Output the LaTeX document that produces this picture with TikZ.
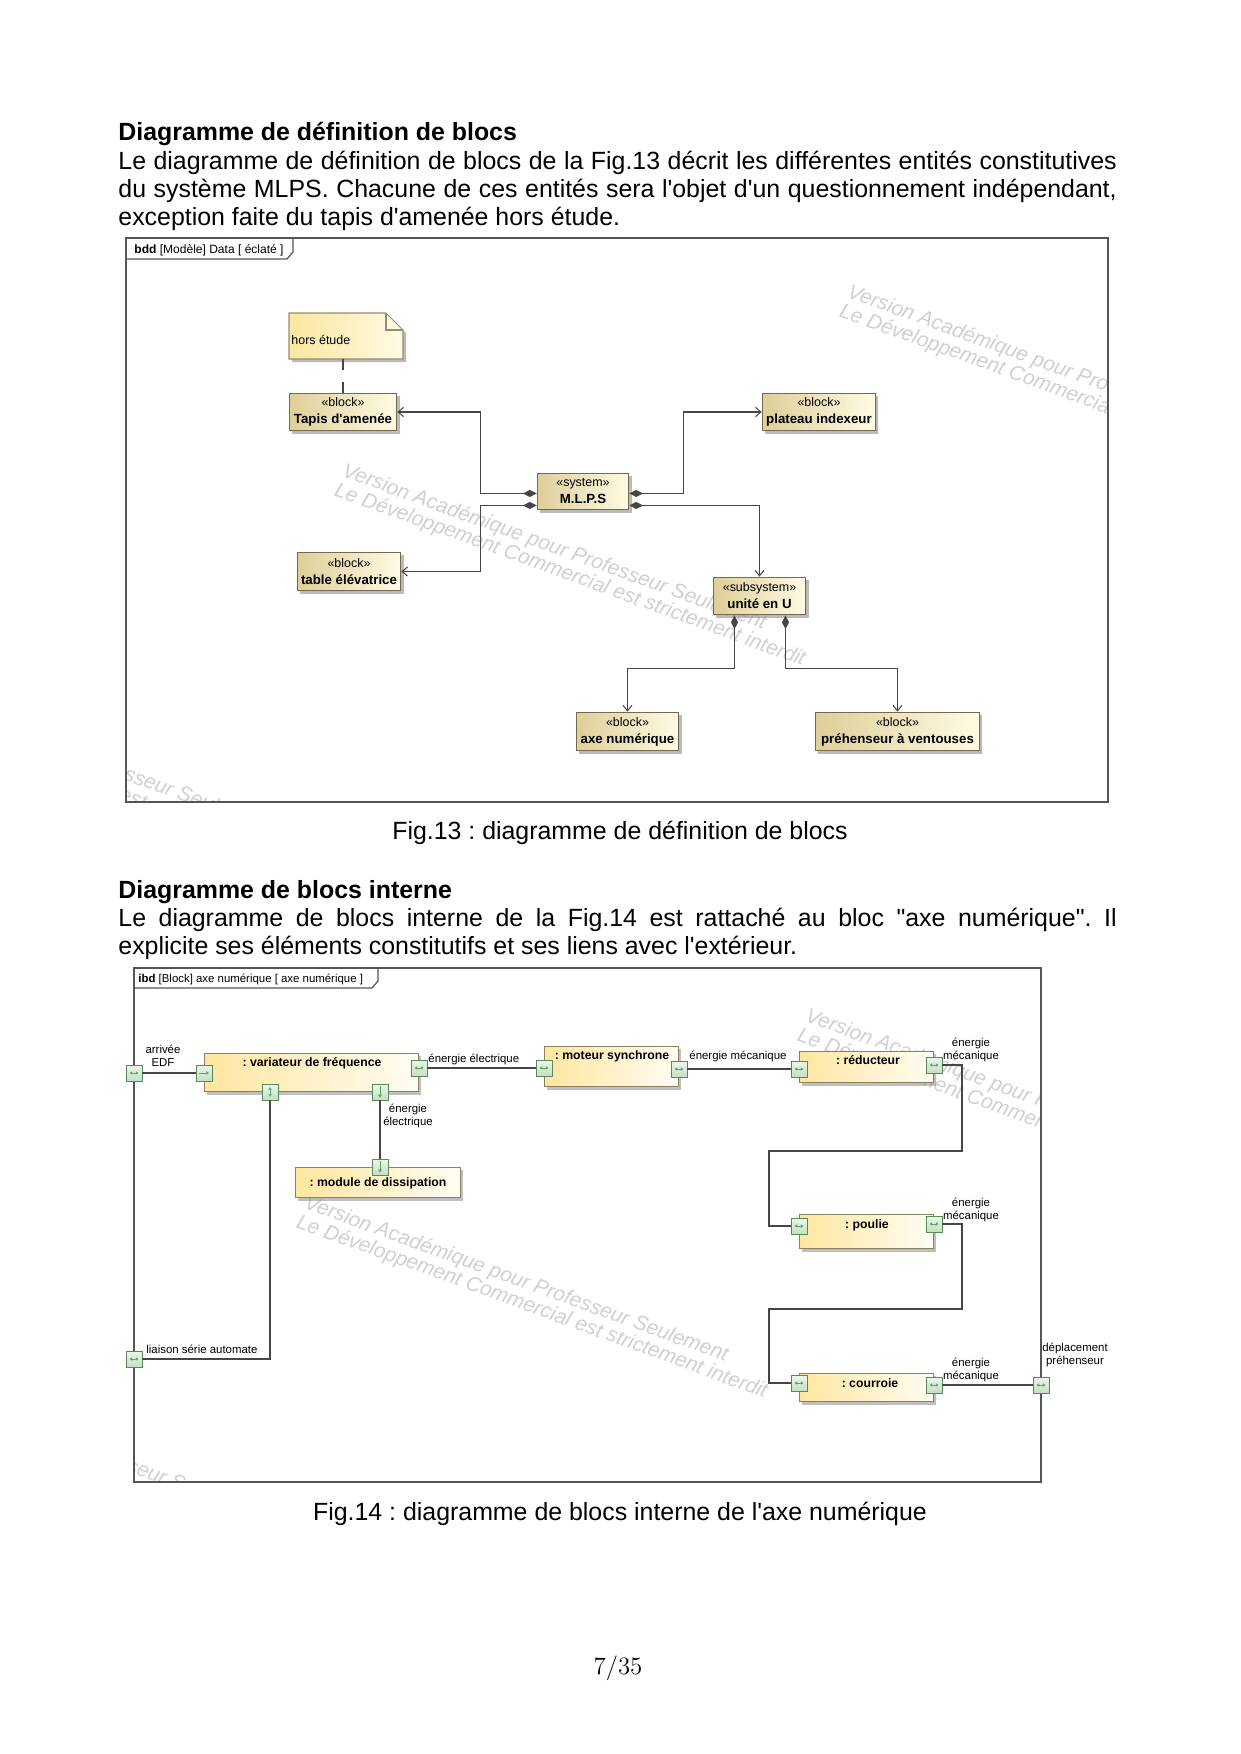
\documentclass[tikz,border=0pt]{standalone}
\usepackage{fontspec}
\newfontfamily\arial{Liberation Sans}[Ligatures=TeXOff]
\usetikzlibrary{arrows.meta,shadows,calc}
\frenchspacing
\definecolor{blkL}{RGB}{222,206,152}
\definecolor{blkR}{RGB}{255,251,228}
\definecolor{blkD}{RGB}{115,105,78}
\definecolor{noteL}{RGB}{250,230,160}
\definecolor{noteD}{RGB}{150,140,110}
\definecolor{partL}{RGB}{255,230,160}
\definecolor{partR}{RGB}{255,253,243}
\definecolor{partD}{RGB}{140,128,95}
\definecolor{portF}{RGB}{196,222,196}
\definecolor{portT}{RGB}{236,246,236}
\definecolor{portD}{RGB}{85,140,85}
\definecolor{portS}{RGB}{95,165,95}
\definecolor{lineC}{RGB}{70,70,70}
\definecolor{frameC}{RGB}{85,85,85}
\definecolor{wmC}{RGB}{208,208,208}
\newcommand\bnm[1]{{\bfseries\fontsize{6.4}{8.2}\selectfont #1}}
\newcommand\wmk[3]{%
  \node[wmtext] (#1a) at (#2,#3) {Version Académique pour Professeur Seulement};
  \node[wmtext] (#1b) at (#2-8,#3+19) {Le Développement Commercial est strictement interdit};}
\newcommand\psh[1]{\draw[psym,{Triangle[length=1.2pt,width=1.6pt]}-{Triangle[length=1.2pt,width=1.6pt]}] ([xshift=-2.1pt]#1.center) -- ([xshift=2.1pt]#1.center);}
\newcommand\psr[1]{\draw[psym,-{Triangle[length=1.3pt,width=1.7pt]}] ([xshift=-2.4pt]#1.center) -- ([xshift=2.4pt]#1.center);}
\newcommand\psv[1]{\draw[psym,{Triangle[length=1.2pt,width=1.6pt]}-{Triangle[length=1.2pt,width=1.6pt]}] ([yshift=2.3pt]#1.center) -- ([yshift=-2.3pt]#1.center);}
\newcommand\psd[1]{\draw[psym,-{Triangle[length=1.4pt,width=1.8pt]}] ([yshift=2.7pt]#1.center) -- ([yshift=-2.7pt]#1.center);}
\begin{document}
\frenchspacing
\begin{tikzpicture}[x=0.016935cm, y=-0.016935cm,
  sz/.style 2 args={minimum width=#1*0.4801pt, minimum height=#2*0.4801pt},
  body/.style={font=\arial\fontsize{12}{13.45}\selectfont, inner sep=0pt, anchor=base west},
  head/.style={font=\arial\bfseries\fontsize{12}{13.45}\selectfont, inner sep=0pt, anchor=base west},
  capt/.style={font=\arial\fontsize{12}{13.45}\selectfont, inner sep=0pt, anchor=base},
  frame/.style={draw=frameC, line width=0.6pt},
  tabtxt/.style={font=\arial\fontsize{5.8}{7}\selectfont, inner sep=0pt, anchor=base west},
  bblock/.style={draw=blkD, line width=0.5pt, left color=blkL, right color=blkR,
    drop shadow={shadow xshift=1.3pt, shadow yshift=-1.3pt, fill=black!45, opacity=0.6},
    font=\arial\fontsize{6}{8.2}\selectfont, align=center, inner sep=0pt},
  comp/.style={draw=lineC, line width=0.5pt, {Diamond[length=6.6pt,width=3.4pt]}-{Straight Barb[length=2.6pt,width=4.4pt]}},
  part/.style={draw=partD, line width=0.5pt, left color=partL, right color=partR,
    drop shadow={shadow xshift=1.3pt, shadow yshift=-1.3pt, fill=black!45, opacity=0.55}, inner sep=0pt},
  pname/.style={font=\arial\bfseries\fontsize{5.9}{7}\selectfont, inner sep=0pt},
  port/.style={draw=portD, line width=0.45pt, top color=portT, bottom color=portF, inner sep=0pt, minimum size=7.7pt, shape=rectangle},
  psym/.style={draw=portS, line width=0.45pt},
  conn/.style={draw=lineC, line width=0.5pt},
  lbl/.style={font=\arial\fontsize{5.5}{6.2}\selectfont, inner sep=0pt},
  wmtext/.style={font=\arial\itshape\fontsize{10}{10}\selectfont, text=wmC, rotate=-20, anchor=base west, inner sep=0pt}
]
\useasboundingbox (0,0) rectangle (1240,1754);
\fill[white] (0,0) rectangle (1240,1754);

% ---------- page text ----------
\node[head] (h1) at (118,140) {Diagramme de définition de blocs};
\node[body] (l1) at (118,169) {\hbox to 481.1pt{Le diagramme de définition de blocs de la Fig.13 décrit les différentes entités constitutives}};
\node[body] (l2) at (118,197) {\hbox to 481.1pt{du système MLPS. Chacune de ces entités sera l'objet d'un questionnement indépendant,}};
\node[body] (l3) at (118,225) {exception faite du tapis d'amenée hors étude.};
\node[capt] (c13) at (620,839) {Fig.13 : diagramme de définition de blocs};
\node[head] (h2) at (118,898) {Diagramme de blocs interne};
\node[body] (l4) at (118,926) {\hbox to 481.1pt{Le diagramme de blocs interne de la Fig.14 est rattaché au bloc "axe numérique". Il}};
\node[body] (l5) at (118,954) {explicite ses éléments constitutifs et ses liens avec l'extérieur.};
\node[capt] (c14) at (620,1520) {Fig.14 : diagramme de blocs interne de l'axe numérique};
\node[inner sep=0pt, anchor=base, font=\fontsize{12}{14}\selectfont] (pg) at (618,1674) {7/35};

% ---------- bdd ----------
\begin{scope}
  \clip (126,238) rectangle (1108,802);
  \wmk{wa}{846}{297}
  \wmk{wb}{341}{476}
  \wmk{wc}{-153}{679}
\end{scope}
\draw[frame] (126,238) rectangle (1108,802);
\draw[frame] (126,259) -- (287,259) -- (293,252) -- (293,238);
\node[tabtxt] (bddlbl) at (134,253) {\textbf{bdd} [Modèle] Data [ éclaté ]};

% note
\fill[black!45, opacity=0.6] (292,316) -- (389,316) -- (406,333) -- (406,362) -- (292,362) -- cycle;
\path[draw=noteD, line width=0.5pt, left color=noteL, right color=blkR] (289,313) -- (386,313) -- (403,330) -- (403,359) -- (289,359) -- cycle;
\draw[noteD, line width=0.5pt] (386,313) -- (386,330) -- (403,330);
\node[inner sep=0pt, sz={114}{46}] (note) at (346,336) {};
\node[inner sep=0pt, anchor=west, font=\arial\fontsize{6}{7}\selectfont] (notetxt) at (291,340) {hors étude};

\node[bblock, sz={108}{38}] (tapis) at (343,412) {«block»\\\bnm{Tapis d'amenée}};
\node[bblock, sz={104}{39}] (table) at (349,571.5) {«block»\\\bnm{table élévatrice}};
\node[bblock, sz={92}{37}] (mlps) at (583,491.5) {«system»\\\bnm{M.L.P.S}};
\node[bblock, sz={114}{38}] (plateau) at (819,412) {«block»\\\bnm{plateau indexeur}};
\node[bblock, sz={93}{38}] (unite) at (759.5,596) {«subsystem»\\\bnm{unité en U}};
\node[bblock, sz={103}{39}] (axe) at (627.5,731.5) {«block»\\\bnm{axe numérique}};
\node[bblock, sz={165}{39}] (prehen) at (897.5,731.5) {«block»\\\bnm{préhenseur à ventouses}};

\draw[lineC, line width=0.5pt, dash pattern=on 5.3pt off 5.8pt] (note.south -| tapis.north) -- (tapis.north);
\draw[comp] ($(mlps.south west)+(0,-17)$) -- ++(-56,0) |- (tapis.east);
\draw[comp] ($(mlps.south west)+(0,-5)$) -- ++(-56,0) |- (table.east);
\draw[comp] ($(mlps.south east)+(0,-17)$) -- ++(54,0) |- (plateau.west);
\draw[comp] ($(mlps.south east)+(0,-5)$) -| (unite.north);
\draw[comp] ($(unite.south)+(-25,0)$) -- ++(0,53) -| (axe.north);
\draw[comp] ($(unite.south)+(26,0)$) -- ++(0,53) -| (prehen.north);

% ---------- ibd ----------
\begin{scope}
  \clip (134,968) rectangle (1041,1482);
  \wmk{wd}{804}{1021}
  \wmk{we}{303}{1208}
  \wmk{wf}{-160}{1367}
\end{scope}
\draw[frame] (134,968) rectangle (1041,1482);
\draw[frame] (134,988) -- (372,988) -- (378,981) -- (378,968);
\node[tabtxt, font=\arial\fontsize{5.5}{7}\selectfont] (ibdlbl) at (138,982) {\textbf{ibd} [Block] axe numérique [ axe numérique ]};

\node[part, sz={215}{39}] (var) at (311.5,1072.5) {};
\node[part, sz={166}{31}] (mod) at (378,1182.5) {};
\node[part, sz={135}{41}] (mot) at (611.5,1066.5) {};
\node[part, sz={135}{32}] (red) at (866.5,1067) {};
\node[part, sz={135}{35}] (pou) at (866.5,1231.5) {};
\node[part, sz={135}{29}] (cou) at (866.5,1387.5) {};

\node[pname] (tvar) at (312,1063) {: variateur de fréquence};
\node[pname] (tmod) at (378,1183) {: module de dissipation};
\node[pname] (tmot) at (612,1056) {: moteur synchrone};
\node[pname] (tred) at (868,1060) {: réducteur};
\node[pname] (tpou) at (867,1225) {: poulie};
\node[pname] (tcou) at (870,1383) {: courroie};

\node[port] (pEDF) at (134,1073) {}; \psh{pEDF}
\node[port] (pVarIn) at (204,1073) {}; \psr{pVarIn}
\node[port] (pVarOut) at (419,1068) {}; \psh{pVarOut}
\node[port] (pVarB1) at (270,1092) {}; \psv{pVarB1}
\node[port] (pVarB2) at (380,1092) {}; \psd{pVarB2}
\node[port] (pModIn) at (380,1167) {}; \psd{pModIn}
\node[port] (pMotIn) at (544,1068) {}; \psh{pMotIn}
\node[port] (pMotOut) at (679,1069) {}; \psh{pMotOut}
\node[port] (pRedIn) at (799,1069) {}; \psh{pRedIn}
\node[port] (pRedOut) at (934,1065) {}; \psh{pRedOut}
\node[port] (pPouIn) at (799,1226) {}; \psh{pPouIn}
\node[port] (pPouOut) at (934,1224) {}; \psh{pPouOut}
\node[port] (pCouIn) at (799,1383) {}; \psh{pCouIn}
\node[port] (pCouOut) at (934,1385) {}; \psh{pCouOut}
\node[port] (pPre) at (1041,1385) {}; \psh{pPre}
\node[port] (pLia) at (134,1359) {}; \psh{pLia}

\draw[conn] (pEDF) -- (pVarIn);
\draw[conn] (pVarOut) -- (pMotIn);
\draw[conn] (pMotOut) -- (pRedIn);
\draw[conn] (pVarB2) -- (pModIn);
\draw[conn] (pVarB1) |- (pLia);
\draw[conn] (pRedOut.east) -| (962,1151) -| (769,1226) -- (pPouIn.west);
\draw[conn] (pPouOut.east) -| (962,1309) -| (769,1383) -- (pCouIn.west);
\draw[conn] (pCouOut) -- (pPre);

\node[lbl, align=center] (lEDF) at (163,1056) {arrivée\\EDF};
\node[lbl, anchor=west] (lEE) at (428,1059) {énergie électrique};
\node[lbl, align=center] (lEE2) at (408,1116) {énergie\\électrique};
\node[lbl, anchor=west] (lEM) at (689,1056) {énergie mécanique};
\node[lbl, align=center] (lEM1) at (971,1050) {énergie\\mécanique};
\node[lbl, align=center] (lEM2) at (971,1210) {énergie\\mécanique};
\node[lbl, align=center] (lEM3) at (971,1370) {énergie\\mécanique};
\node[lbl, align=center] (lDP) at (1075,1355) {déplacement\\préhenseur};
\node[lbl, anchor=west] (lLS) at (146,1349) {liaison série automate};
\end{tikzpicture}
\end{document}
